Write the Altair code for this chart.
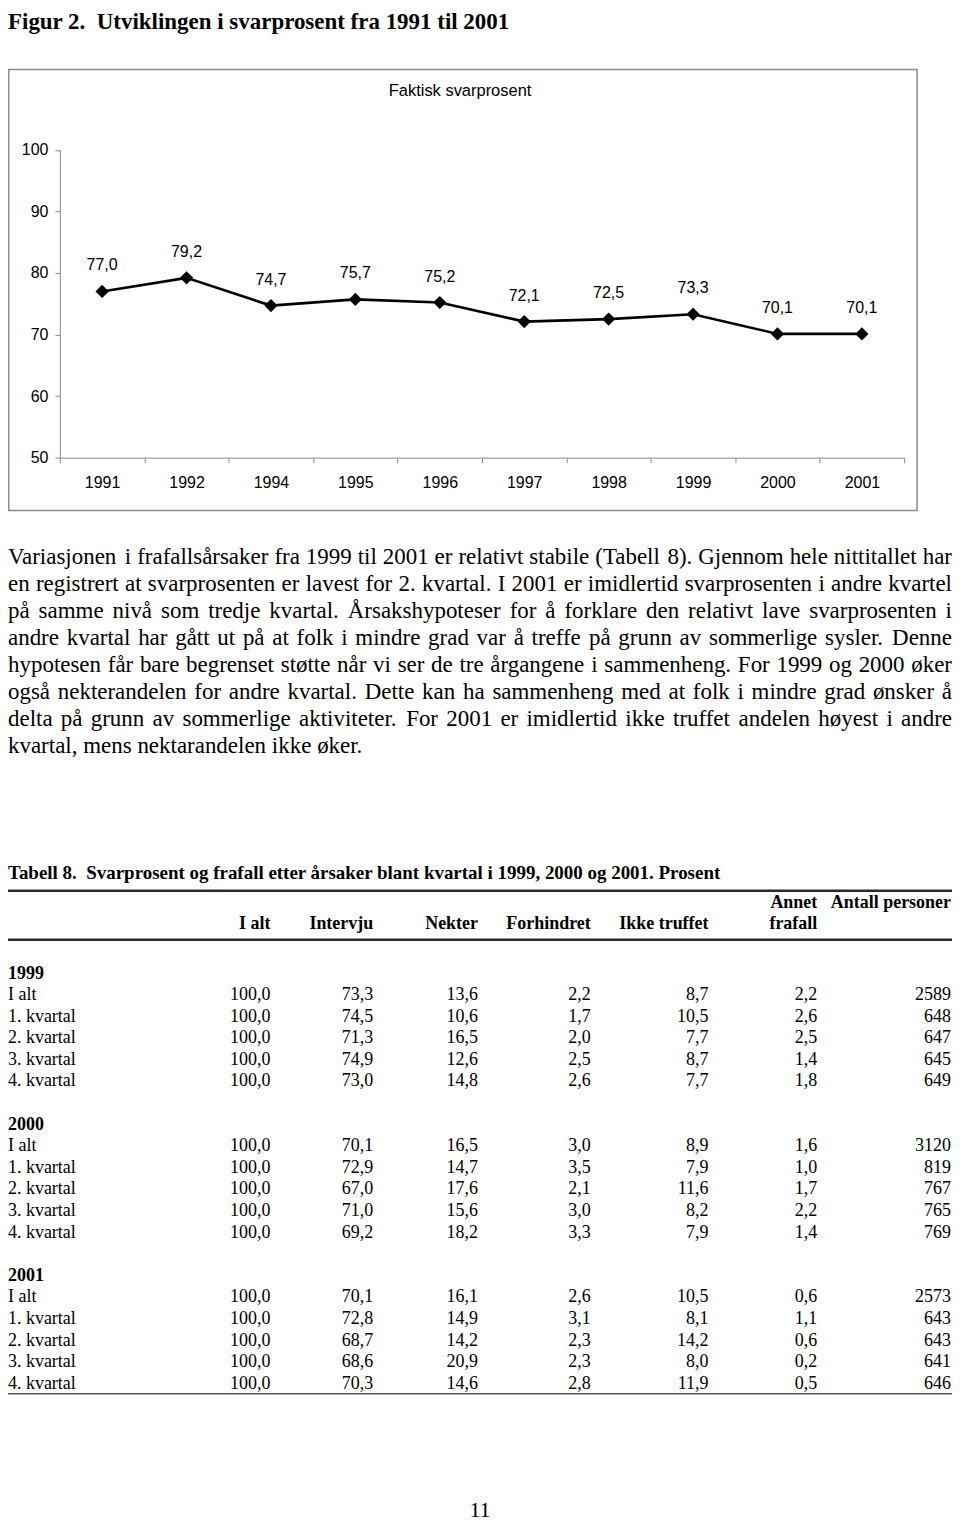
import altair as alt
import pandas as pd

# ---------------- data ----------------
years = ["1991", "1992", "1994", "1995", "1996", "1997", "1998", "1999", "2000", "2001"]
svarprosent = [77.0, 79.2, 74.7, 75.7, 75.2, 72.1, 72.5, 73.3, 70.1, 70.1]
y_ticks = [50, 60, 70, 80, 90, 100]

figure_title = "Figur 2.\u00a0 Utviklingen i svarprosent fra 1991 til 2001"
chart_title = "Faktisk svarprosent"

paragraph_lines = [
    "Variasjonen i frafallsårsaker fra 1999 til 2001 er relativt stabile (Tabell 8). Gjennom hele nittitallet har",
    "en registrert at svarprosenten er lavest for 2. kvartal. I 2001 er imidlertid svarprosenten i andre kvartel",
    "på samme nivå som tredje kvartal. Årsakshypoteser for å forklare den relativt lave svarprosenten i",
    "andre kvartal har gått ut på at folk i mindre grad var å treffe på grunn av sommerlige sysler. Denne",
    "hypotesen får bare begrenset støtte når vi ser de tre årgangene i sammenheng. For 1999 og 2000 øker",
    "også nekterandelen for andre kvartal. Dette kan ha sammenheng med at folk i mindre grad ønsker å",
    "delta på grunn av sommerlige aktiviteter. For 2001 er imidlertid ikke truffet andelen høyest i andre",
    "kvartal, mens nektarandelen ikke øker.",
]

table_title = "Tabell 8.\u00a0 Svarprosent og frafall etter årsaker blant kvartal i 1999, 2000 og 2001. Prosent"
table_years = ["1999", "2000", "2001"]
row_labels = ["I alt", "1. kvartal", "2. kvartal", "3. kvartal", "4. kvartal"]
col_headers_line1 = ["", "", "", "", "", "Annet", "Antall personer"]
col_headers_line2 = ["I alt", "Intervju", "Nekter", "Forhindret", "Ikke truffet", "frafall", ""]

col_i_alt = [100.0, 100.0, 100.0, 100.0, 100.0, 100.0, 100.0, 100.0, 100.0, 100.0, 100.0, 100.0, 100.0, 100.0, 100.0]
col_intervju = [73.3, 74.5, 71.3, 74.9, 73.0, 70.1, 72.9, 67.0, 71.0, 69.2, 70.1, 72.8, 68.7, 68.6, 70.3]
col_nekter = [13.6, 10.6, 16.5, 12.6, 14.8, 16.5, 14.7, 17.6, 15.6, 18.2, 16.1, 14.9, 14.2, 20.9, 14.6]
col_forhindret = [2.2, 1.7, 2.0, 2.5, 2.6, 3.0, 3.5, 2.1, 3.0, 3.3, 2.6, 3.1, 2.3, 2.3, 2.8]
col_ikke_truffet = [8.7, 10.5, 7.7, 8.7, 7.7, 8.9, 7.9, 11.6, 8.2, 7.9, 10.5, 8.1, 14.2, 8.0, 11.9]
col_annet = [2.2, 2.6, 2.5, 1.4, 1.8, 1.6, 1.0, 1.7, 2.2, 1.4, 0.6, 1.1, 0.6, 0.2, 0.5]
col_antall = [2589, 648, 647, 645, 649, 3120, 819, 767, 765, 769, 2573, 643, 643, 641, 646]

page_number = "11"

# ---------------- layout (view pixels; page = view + 8) ----------------
W, H = 946, 1513
SERIF = "Liberation Serif"
SANS = "Liberation Sans"
PX = alt.Scale(domain=[0, W], range=[0, W])
PY = alt.Scale(domain=[0, H], range=[0, H])

PLOT_X = [52, 898]
PLOT_Y = [449, 140.5]

PARA_FS = 23
PARA_LEFT, PARA_RIGHT = 0, 946
PARA_Y = [549, 738]

TAB_FS = 18
TAB_ROW_Y = [966, 1377]
COL_RIGHT = [263, 366, 471, 584, 702, 811, 945]

TIMES = {' ': 250, '(': 333, ')': 333, ',': 250, '.': 250, '-': 333,
         'A': 722, 'B': 667, 'C': 667, 'D': 722, 'E': 611, 'F': 556, 'G': 722, 'H': 722,
         'I': 333, 'J': 389, 'K': 722, 'L': 611, 'M': 889, 'N': 722, 'O': 722, 'P': 556,
         'Q': 722, 'R': 667, 'S': 556, 'T': 611, 'U': 722, 'V': 722, 'W': 944, 'X': 722,
         'Y': 722, 'Z': 611,
         'a': 444, 'b': 500, 'c': 444, 'd': 500, 'e': 444, 'f': 333, 'g': 500, 'h': 500,
         'i': 278, 'j': 278, 'k': 500, 'l': 278, 'm': 778, 'n': 500, 'o': 500, 'p': 500,
         'q': 500, 'r': 333, 's': 389, 't': 278, 'u': 500, 'v': 500, 'w': 722, 'x': 500,
         'y': 500, 'z': 444, 'å': 444, 'ø': 500, 'æ': 667, 'Å': 722, 'Ø': 722, 'Æ': 889}


def tw(s, fs):
    return sum(TIMES.get(c, 500) for c in s) * fs / 1000.0


def fmt(v):
    return f"{v:.1f}".replace(".", ",")


# ---------------- line chart ----------------
line_df = pd.DataFrame({"year": years, "value": svarprosent,
                        "label": [fmt(v) for v in svarprosent]})

base = alt.Chart(line_df).encode(
    x=alt.X("year:N", sort=years, title=None,
            scale=alt.Scale(type="band", domain=years, range=PLOT_X,
                            paddingInner=0, paddingOuter=0),
            axis=alt.Axis(orient="bottom", offset=PLOT_Y[0] - H, tickBand="extent",
                          tickSize=5, tickColor="#8c8c8c", domainColor="#8c8c8c",
                          labelFont=SANS, labelFontSize=16, labelColor="black",
                          labelPadding=12, labelAngle=0, grid=False, labelFlush=False)),
    y=alt.Y("value:Q", title=None,
            scale=alt.Scale(domain=[50, 100], range=PLOT_Y, nice=False, zero=False),
            axis=alt.Axis(orient="left", offset=-PLOT_X[0], values=y_ticks,
                          tickSize=5, tickColor="#8c8c8c", domainColor="#8c8c8c",
                          labelFont=SANS, labelFontSize=16, labelColor="black",
                          labelPadding=7, grid=False, labelFlush=False)),
)
line = base.mark_line(color="black", strokeWidth=2.6)
pts = base.mark_point(shape="diamond", filled=True, size=175, color="black", opacity=1)
lbl = base.mark_text(dy=-26, font=SANS, fontSize=16, color="black").encode(text="label:N")
linechart = alt.layer(line, pts, lbl)

one = pd.DataFrame({"d": [0]})
frame = alt.Chart(one).mark_rect(fillOpacity=0, stroke="#8c8c8c", strokeWidth=1.5).encode(
    x=alt.value(0.75), x2=alt.value(911), y=alt.value(60), y2=alt.value(502))

fig_title = alt.Chart(pd.DataFrame({"t": [figure_title]})).mark_text(
    font=SERIF, fontSize=23, fontWeight="bold", align="left", baseline="alphabetic",
    color="black").encode(x=alt.value(0), y=alt.value(19.5), text="t:N")

ch_title = alt.Chart(pd.DataFrame({"t": [chart_title]})).mark_text(
    font=SANS, fontSize=16.5, align="center", baseline="middle",
    color="black").encode(x=alt.value(453), y=alt.value(82), text="t:N")

# ---------------- paragraph (justified) ----------------
prow = []
for i, ln in enumerate(paragraph_lines):
    words = ln.split()
    ws = [tw(w, PARA_FS) for w in words]
    if i == len(paragraph_lines) - 1 or len(words) < 2:
        gap = tw(" ", PARA_FS)
    else:
        gap = (PARA_RIGHT - PARA_LEFT - sum(ws)) / (len(words) - 1)
    x = PARA_LEFT
    for w, wd in zip(words, ws):
        prow.append({"line": i, "word": w, "x": x})
        x += wd + gap
para_df = pd.DataFrame(prow)
para = alt.Chart(para_df).mark_text(
    font=SERIF, fontSize=PARA_FS, align="left", baseline="middle", color="black").encode(
    x=alt.X("x:Q", scale=PX, axis=None),
    y=alt.Y("line:Q", scale=alt.Scale(domain=[0, len(paragraph_lines) - 1], range=PARA_Y), axis=None),
    text="word:N")

# ---------------- table ----------------
columns = [col_i_alt, col_intervju, col_nekter, col_forhindret, col_ikke_truffet, col_annet, col_antall]
year_rows, label_rows, num_rows = [], [], []
for b, yr in enumerate(table_years):
    r0 = b * 7
    year_rows.append({"row": r0, "t": yr})
    for k, lab in enumerate(row_labels):
        idx = b * 5 + k
        label_rows.append({"row": r0 + 1 + k, "t": lab})
        for c, col in enumerate(columns):
            v = col[idx]
            txt = str(int(v)) if c == len(columns) - 1 else fmt(v)
            num_rows.append({"row": r0 + 1 + k, "x": COL_RIGHT[c], "t": txt})

row_scale = alt.Scale(domain=[0, 19], range=TAB_ROW_Y)

tab_title = alt.Chart(pd.DataFrame({"t": [table_title]})).mark_text(
    font=SERIF, fontSize=19, fontWeight="bold", align="left", baseline="middle",
    color="black").encode(x=alt.value(0), y=alt.value(865), text="t:N")

hdr_rows = []
for c, h in enumerate(col_headers_line1):
    if h:
        hdr_rows.append({"x": COL_RIGHT[c], "y": 895, "t": h})
for c, h in enumerate(col_headers_line2):
    if h:
        hdr_rows.append({"x": COL_RIGHT[c], "y": 916, "t": h})
headers = alt.Chart(pd.DataFrame(hdr_rows)).mark_text(
    font=SERIF, fontSize=TAB_FS, fontWeight="bold", align="right", baseline="middle",
    color="black").encode(
    x=alt.X("x:Q", scale=PX, axis=None), y=alt.Y("y:Q", scale=PY, axis=None), text="t:N")

t_years = alt.Chart(pd.DataFrame(year_rows)).mark_text(
    font=SERIF, fontSize=TAB_FS, fontWeight="bold", align="left", baseline="middle",
    color="black").encode(
    x=alt.value(0), y=alt.Y("row:Q", scale=row_scale, axis=None), text="t:N")

t_labels = alt.Chart(pd.DataFrame(label_rows)).mark_text(
    font=SERIF, fontSize=TAB_FS, align="left", baseline="middle", color="black").encode(
    x=alt.value(0), y=alt.Y("row:Q", scale=row_scale, axis=None), text="t:N")

t_nums = alt.Chart(pd.DataFrame(num_rows)).mark_text(
    font=SERIF, fontSize=TAB_FS, align="right", baseline="middle", color="black").encode(
    x=alt.X("x:Q", scale=PX, axis=None),
    y=alt.Y("row:Q", scale=row_scale, axis=None), text="t:N")

rule_top = alt.Chart(one).mark_rule(color="#2a2a2a", strokeWidth=2.5).encode(
    x=alt.value(0), x2=alt.value(W), y=alt.value(883))
rule_hdr = alt.Chart(one).mark_rule(color="#2a2a2a", strokeWidth=2.5).encode(
    x=alt.value(0), x2=alt.value(W), y=alt.value(932))
rule_bot = alt.Chart(one).mark_rule(color="#555555", strokeWidth=1.5).encode(
    x=alt.value(0), x2=alt.value(W), y=alt.value(1387))

pnum = alt.Chart(pd.DataFrame({"t": [page_number]})).mark_text(
    font=SERIF, fontSize=22, align="center", baseline="alphabetic", color="black").encode(
    x=alt.value(473), y=alt.value(1511), text="t:N")

chart = alt.layer(
    frame, fig_title, ch_title, linechart, para, tab_title, rule_top, rule_hdr, rule_bot,
    headers, t_years, t_labels, t_nums, pnum
).resolve_scale(x="independent", y="independent").properties(
    width=W, height=H, autosize=alt.AutoSizeParams(type="none"), padding=0,
    background="white"
).configure_view(strokeWidth=0)

chart.save("out.html", embed_options={"renderer": "svg", "actions": False})
